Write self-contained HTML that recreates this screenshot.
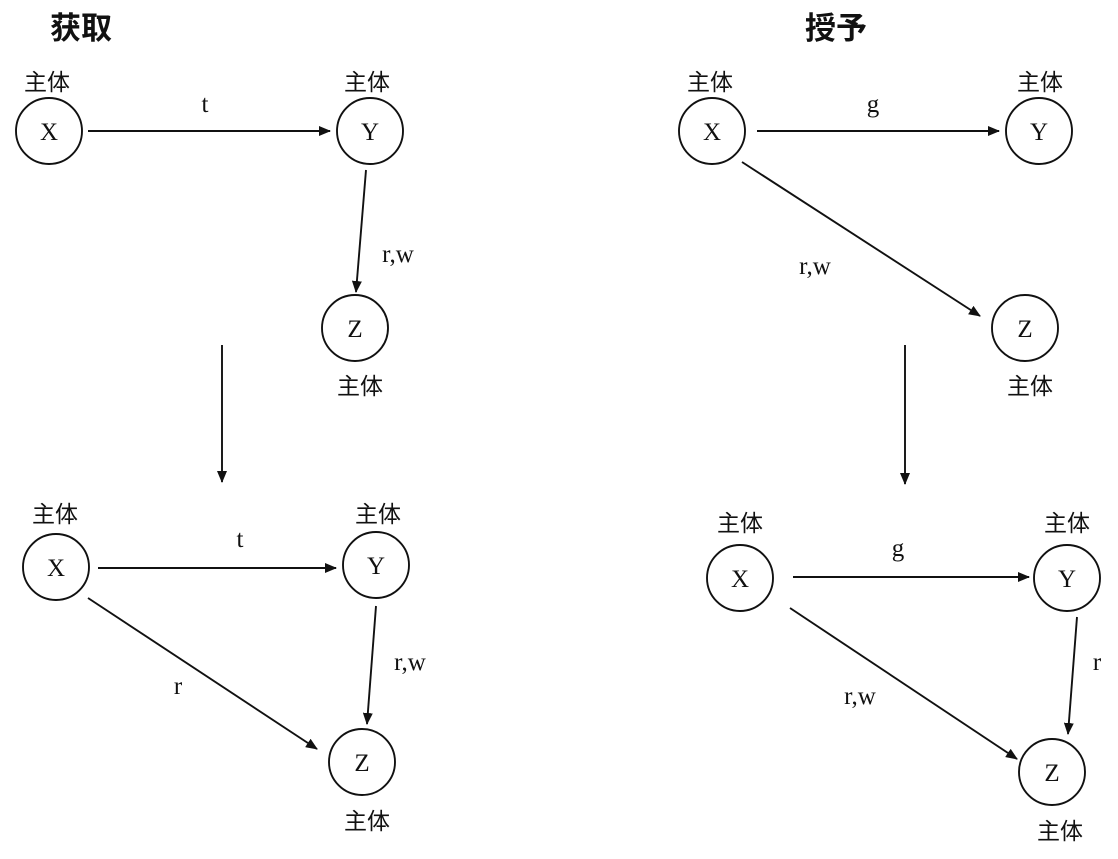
<!DOCTYPE html>
<html><head><meta charset="utf-8"><style>
body{margin:0;background:#fff;width:1118px;height:854px;overflow:hidden}
svg text{fill:#111}
.l{font-family:"Liberation Serif","Noto Serif CJK SC",serif;font-size:25px}
.c{font-family:"Liberation Sans","Noto Sans CJK SC",sans-serif;font-size:23px}
.t{font-family:"Liberation Sans","Noto Sans CJK SC",sans-serif;font-size:31px;font-weight:bold}
</style></head><body>
<svg width="1118" height="854" viewBox="0 0 1118 854">
<defs><marker id="ah" viewBox="0 0 12 10" refX="11" refY="5" markerWidth="12" markerHeight="10" markerUnits="userSpaceOnUse" orient="auto"><path d="M0,0 L12,5 L0,10 Z" fill="#111"/></marker></defs>
<g stroke="#111" stroke-width="1.9" fill="none">
<circle cx="49" cy="131" r="33"/>
<circle cx="370" cy="131" r="33"/>
<circle cx="355" cy="328" r="33"/>
<circle cx="56" cy="567" r="33"/>
<circle cx="376" cy="565" r="33"/>
<circle cx="362" cy="762" r="33"/>
<circle cx="712" cy="131" r="33"/>
<circle cx="1039" cy="131" r="33"/>
<circle cx="1025" cy="328" r="33"/>
<circle cx="740" cy="578" r="33"/>
<circle cx="1067" cy="578" r="33"/>
<circle cx="1052" cy="772" r="33"/>
<g marker-end="url(#ah)">
<line x1="88" y1="131" x2="330" y2="131"/>
<line x1="366" y1="170" x2="356" y2="292"/>
<line x1="222" y1="345" x2="222" y2="482"/>
<line x1="98" y1="568" x2="336" y2="568"/>
<line x1="376" y1="606" x2="367" y2="724"/>
<line x1="88" y1="598" x2="317" y2="749"/>
<line x1="757" y1="131" x2="999" y2="131"/>
<line x1="742" y1="162" x2="980" y2="316"/>
<line x1="905" y1="345" x2="905" y2="484"/>
<line x1="793" y1="577" x2="1029" y2="577"/>
<line x1="790" y1="608" x2="1017" y2="759"/>
<line x1="1077" y1="617" x2="1068" y2="734"/>
</g></g>
<text class="t" x="50" y="39">获取</text>
<text class="t" x="805" y="39">授予</text>
<g class="l" text-anchor="middle">
<text x="49" y="140">X</text><text x="370" y="140">Y</text><text x="355" y="337">Z</text>
<text x="56" y="576">X</text><text x="376" y="574">Y</text><text x="362" y="771">Z</text>
<text x="712" y="140">X</text><text x="1039" y="140">Y</text><text x="1025" y="337">Z</text>
<text x="740" y="587">X</text><text x="1067" y="587">Y</text><text x="1052" y="781">Z</text>
<text x="205" y="112">t</text><text x="398" y="262">r,w</text>
<text x="240" y="547">t</text><text x="410" y="670">r,w</text><text x="178" y="694">r</text>
<text x="873" y="112">g</text><text x="815" y="274">r,w</text>
<text x="898" y="556">g</text><text x="860" y="704">r,w</text><text x="1097" y="670">r</text>
</g>
<g class="c" text-anchor="middle">
<text x="47" y="90">主体</text><text x="367" y="90">主体</text><text x="360" y="394">主体</text>
<text x="55" y="522">主体</text><text x="378" y="522">主体</text><text x="367" y="829">主体</text>
<text x="710" y="90">主体</text><text x="1040" y="90">主体</text><text x="1030" y="394">主体</text>
<text x="740" y="531">主体</text><text x="1067" y="531">主体</text><text x="1060" y="839">主体</text>
</g>
</svg>
</body></html>
